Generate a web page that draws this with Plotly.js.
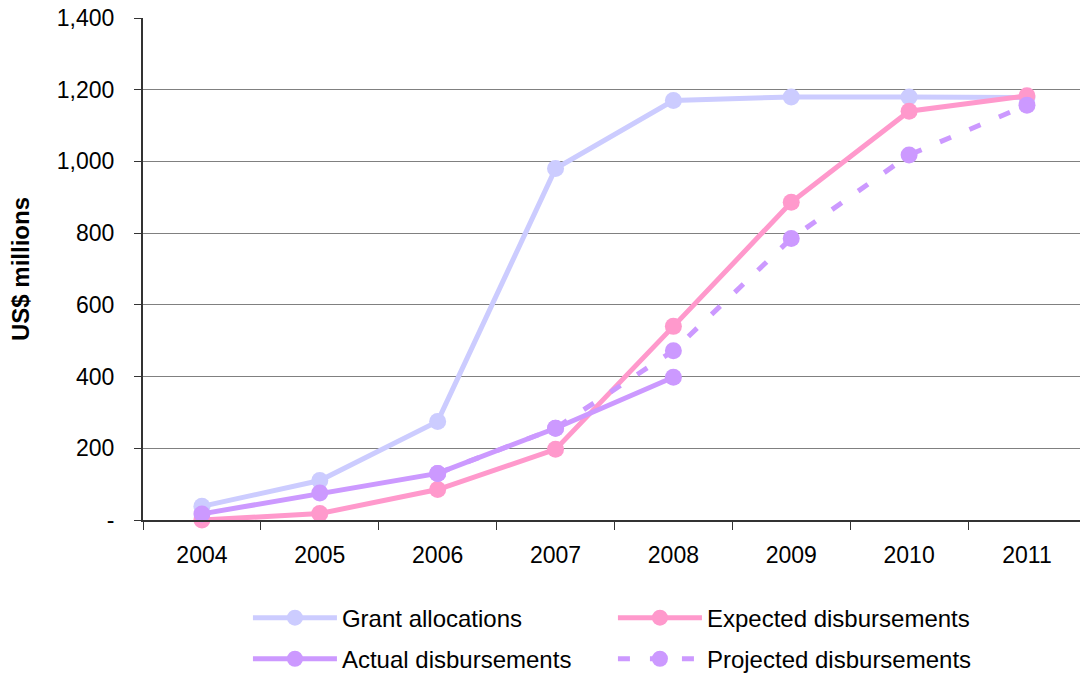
<!DOCTYPE html>
<html><head><meta charset="utf-8">
<script src="https://cdn.plot.ly/plotly-3.0.1.min.js"></script>
<style>body{margin:0;background:#fff}#chart{width:1080px;height:674px}</style>
</head><body><div id="chart"></div>
<script>
const years = ["2004","2005","2006","2007","2008","2009","2010","2011"];
const grantAllocations = [38, 110, 275, 980, 1170, 1180, 1180, 1178];
const expectedDisbursements = [0, 18, 85, 197, 540, 886, 1140, 1183];
const actualYears = ["2004","2005","2006","2007","2008"];
const actualDisbursements = [17, 75, 130, 256, 398];
const projectedYears = ["2006","2007","2008","2009","2010","2011"];
const projectedDisbursements = [130, 256, 472, 785, 1018, 1157];
const yTickVals = [0, 200, 400, 600, 800, 1000, 1200, 1400];
const yTickText = ["-", "200", "400", "600", "800", "1,000", "1,200", "1,400"];

const font = "Liberation Sans, Arial, sans-serif";
function tr(name, x, y, color, dash, leg){
  return {type:"scatter", mode:"lines+markers", name:name, x:x, y:y,
    line:{color:color, width:5, dash:dash||"solid"},
    marker:{color:color, size:17}, cliponaxis:false, legend:leg};
}
const data = [
  tr("Grant allocations", years, grantAllocations, "#CCCCFF", "solid", "legend"),
  tr("Expected disbursements", years, expectedDisbursements, "#FF99CC", "solid", "legend"),
  tr("Projected disbursements", projectedYears, projectedDisbursements, "#CC99FF", "12px,20px", "legend2"),
  tr("Actual disbursements", actualYears, actualDisbursements, "#CC99FF", "solid", "legend2")
];
data[3].legendrank = 1; data[2].legendrank = 2;
const legBase = {orientation:"h", xref:"paper", yref:"container", x:0.112, xanchor:"left",
  yanchor:"middle", entrywidth:266, entrywidthmode:"pixels",
  font:{family:font, size:24}, itemwidth:84, tracegroupgap:0, bgcolor:"rgba(0,0,0,0)"};
const layout = {
  width:1080, height:674,
  margin:{l:143, r:0, t:18, b:154},
  paper_bgcolor:"#fff", plot_bgcolor:"#fff",
  font:{family:font, size:23, color:"#000"},
  showlegend:true,
  legend:Object.assign({}, legBase, {y:0.083}),
  legend2:Object.assign({}, legBase, {y:0.022}),
  xaxis:{type:"category", categoryorder:"array", categoryarray:years,
    range:[-0.5, 7.45], showgrid:false, showline:true, linecolor:"#333", linewidth:2,
    ticks:"outside", tickson:"boundaries", ticklen:8, tickcolor:"#333",
    ticklabelstandoff:13, tickfont:{family:font, size:23}, fixedrange:true},
  yaxis:{range:[0,1400], tickvals:yTickVals, ticktext:yTickText,
    showgrid:true, gridcolor:"#808080", gridwidth:1, zeroline:false,
    showline:true, linecolor:"#333", linewidth:2,
    ticks:"outside", ticklen:7, tickcolor:"#333", ticklabelstandoff:15,
    tickfont:{family:font, size:23},
    title:{text:"<b>US$ millions</b>", font:{family:font, size:24}, standoff:20}}
};
Plotly.newPlot("chart", data, layout, {displayModeBar:false, staticPlot:true});
</script></body></html>
